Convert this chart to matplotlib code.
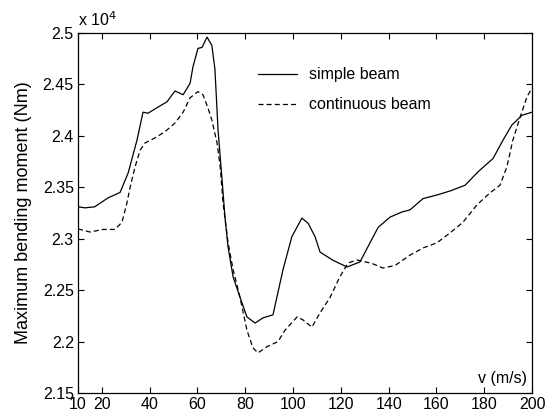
import matplotlib
matplotlib.use('Agg')
import matplotlib.pyplot as plt

plt.rcParams['font.family'] = ['Liberation Sans', 'DejaVu Sans']

# speed (m/s) and max bending moment (x 1e4 Nm)
v_simple = [10, 13, 17, 22.5, 27.6, 31, 34.7, 37.2, 39.3, 43.5, 47.2, 50.6, 54,
            56.9, 58.1, 60.2, 61.9, 64, 66, 67.3, 68.6, 70.3, 71.5, 72.8, 74.9,
            77.8, 80.7, 84.1, 87.4, 91.6, 95.8, 99.5, 103.7, 106.3, 109.2, 111.3,
            116.7, 122.6, 128, 132.2, 135.6, 140.6, 145.6, 148.9, 154.4, 160.2,
            165.7, 172, 177.4, 183.7, 187.9, 191.6, 195.8, 200]
m_simple = [2.331, 2.330, 2.331, 2.3396, 2.345, 2.364, 2.396, 2.423, 2.422, 2.428,
            2.433, 2.4436, 2.440, 2.451, 2.467, 2.485, 2.486, 2.496, 2.488, 2.465,
            2.406, 2.357, 2.321, 2.292, 2.263, 2.243, 2.224, 2.218, 2.223, 2.226,
            2.270, 2.302, 2.320, 2.315, 2.302, 2.287, 2.279, 2.2725, 2.2774, 2.296,
            2.311, 2.321, 2.326, 2.328, 2.339, 2.3425, 2.3464, 2.352, 2.365, 2.378,
            2.396, 2.4106, 2.420, 2.423]

v_cont = [10, 15, 20.5, 25.5, 28.4, 30.5, 31.8, 33.9, 36, 38, 42.2, 46.4, 50.6, 54,
          56.9, 60.2, 62.3, 64.4, 66, 68.2, 69.5, 70.7, 72.8, 74.9, 77.8, 80.7,
          83.2, 85.3, 89.1, 93.7, 96.6, 101.7, 104.2, 107.9, 111.3, 115.5, 119.6,
          123, 126.8, 133, 137.6, 142.7, 148.9, 154.4, 160.2, 165.7, 171.1, 177,
          182.4, 186.6, 189.5, 192, 195, 197.9, 200]
m_cont = [2.3095, 2.3065, 2.309, 2.309, 2.316, 2.335, 2.350, 2.370, 2.386, 2.393,
          2.398, 2.404, 2.4125, 2.423, 2.437, 2.443, 2.440, 2.427, 2.4155, 2.393,
          2.370, 2.335, 2.296, 2.270, 2.243, 2.211, 2.194, 2.189, 2.195, 2.200,
          2.211, 2.224, 2.221, 2.214, 2.228, 2.243, 2.263, 2.2764, 2.2793, 2.276,
          2.2715, 2.274, 2.284, 2.291, 2.296, 2.3056, 2.316, 2.333, 2.3445, 2.352,
          2.370, 2.396, 2.418, 2.438, 2.4465]

x_ticks = [10, 20, 40, 60, 80, 100, 120, 140, 160, 180, 200]
y_ticks = [2.15, 2.2, 2.25, 2.3, 2.35, 2.4, 2.45, 2.5]
y_labels = ['2.15', '2.2', '2.25', '2.3', '2.35', '2.4', '2.45', '2.5']

fs = 11.5

fig = plt.figure(figsize=(5.47, 4.16), dpi=100)
ax = fig.add_axes([0.1426, 0.0553, 0.83, 0.8654])

ax.plot(v_simple, m_simple, color='black', lw=0.9, label='simple beam')
ax.plot(v_cont, m_cont, color='black', lw=0.9, linestyle=(0, (4, 2.5)),
        label='continuous beam')

ax.set_xlim(10, 200)
ax.set_ylim(2.15, 2.5)
ax.set_xticks(x_ticks)
ax.set_yticks(y_ticks)
ax.set_yticklabels(y_labels)
ax.tick_params(direction='in', top=True, right=True, length=4, width=0.8,
               labelsize=fs, pad=3)
for s in ax.spines.values():
    s.set_linewidth(0.9)

ax.set_ylabel('Maximum bending moment (Nm)', fontsize=13, labelpad=8)
ax.text(0.99, 0.04, 'v (m/s)', transform=ax.transAxes, ha='right', va='center',
        fontsize=fs)
ax.text(0.0, 1.012, r'x 10$^{4}$', transform=ax.transAxes, ha='left',
        va='bottom', fontsize=fs)

ax.legend(loc='upper left', bbox_to_anchor=(0.396, 0.905), frameon=False,
          fontsize=fs, handlelength=2.45, handletextpad=0.75, labelspacing=0.95,
          borderpad=0, borderaxespad=0)

fig.savefig('out.png', dpi=100)
